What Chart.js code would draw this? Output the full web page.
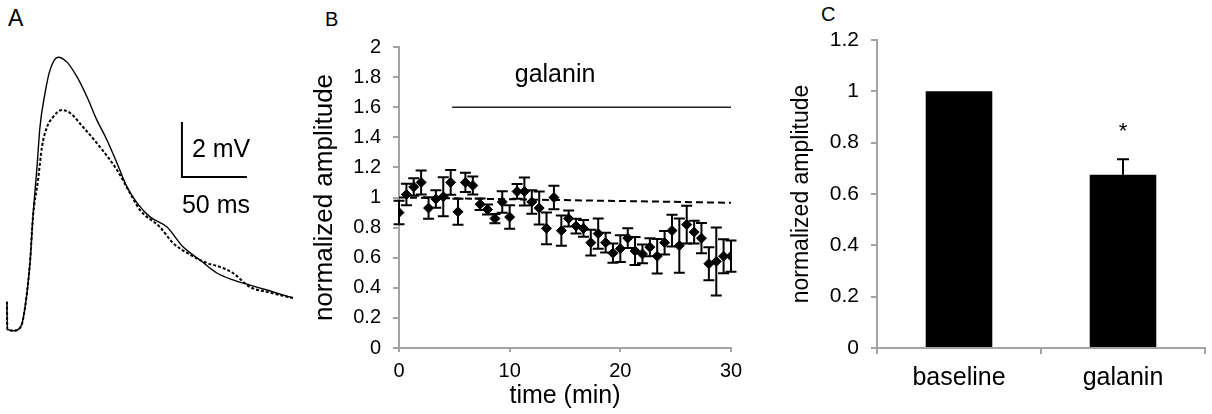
<!DOCTYPE html>
<html>
<head>
<meta charset="utf-8">
<script src="https://cdn.jsdelivr.net/npm/chart.js@4.4.0/dist/chart.umd.min.js"></script>
<style>
body { margin: 0; background: #fff; width: 1212px; height: 414px; position: relative; overflow: hidden; font-family: 'Liberation Sans', Arial, sans-serif; }
.panel { position: absolute; }
.lbl { position: absolute; font-size: 20px; line-height: 20px; color: #000; }
</style>
</head>
<body>
<div class="lbl" style="left:8px;top:7px;font-size:23px;line-height:23px">A</div>
<div class="lbl" style="left:325px;top:9px">B</div>
<div class="lbl" style="left:821px;top:4px">C</div>
<div class="panel" style="left:0;top:0;width:310px;height:414px"><canvas id="chartA"></canvas></div>
<div class="panel" style="left:300px;top:0;width:460px;height:414px"><canvas id="chartB"></canvas></div>
<div class="panel" style="left:780px;top:0;width:432px;height:414px"><canvas id="chartC"></canvas></div>
<script>
// panel A - example traces (ms, mV)
const solidTime = [-0.8, -0.5, 4.6, 9.2, 11.5, 16.9, 19.2, 22.3, 24.6, 28.5, 32.3, 38.5, 45.4, 53.1, 60.8, 68.4, 76.1, 83.8, 91.5, 99.2, 109.2, 122.3, 134.6, 147.7, 160.7, 173, 186.1, 199.2, 219.2]
const solidMv = [0.95, -0.05, -0.1, 0, 0.29, 2.36, 4.04, 5.85, 7.31, 8.55, 9.38, 9.85, 9.67, 9.13, 8.4, 7.56, 6.84, 6.0, 5.13, 4.55, 4.04, 3.67, 2.95, 2.47, 2.0, 1.75, 1.56, 1.38, 1.09]
const dashedTime = [-0.8, -0.5, 4.6, 9.2, 11.5, 16.9, 19.2, 23.1, 26.1, 30.0, 34.6, 41.5, 47.7, 57.7, 70.8, 83.8, 93.8, 101.5, 116.9, 126.9, 137.7, 153, 163, 173, 186.1, 199.2, 219.2]
const dashedMv = [0.95, -0.05, -0.1, 0, 0.29, 2.36, 4.04, 5.38, 6.58, 7.31, 7.67, 7.93, 7.82, 7.31, 6.58, 5.75, 4.91, 4.29, 3.67, 3.09, 2.73, 2.36, 2.22, 2.0, 1.49, 1.31, 1.09]
const scaleBarTime = [133.8, 133.8, 183.8]
const scaleBarMv = [7.49, 5.49, 5.49]

// panel B - time course
const timeMin = [0, 0.67, 1.33, 2, 2.67, 3.33, 4, 4.67, 5.33, 6, 6.67, 7.33, 8, 8.67, 9.33, 10, 10.67, 11.33, 12, 12.67, 13.33, 14, 14.67, 15.33, 16, 16.67, 17.33, 18, 18.67, 19.33, 20, 20.67, 21.33, 22, 22.67, 23.33, 24, 24.67, 25.33, 26, 26.67, 27.33, 28, 28.67, 29.33, 30]
const amplitude = [0.90, 1.02, 1.07, 1.10, 0.93, 0.99, 1.005, 1.10, 0.905, 1.10, 1.08, 0.955, 0.92, 0.86, 0.97, 0.87, 1.04, 1.04, 0.97, 0.93, 0.795, 1.00, 0.78, 0.86, 0.81, 0.795, 0.70, 0.76, 0.70, 0.63, 0.66, 0.73, 0.645, 0.625, 0.67, 0.61, 0.70, 0.78, 0.68, 0.82, 0.77, 0.73, 0.56, 0.575, 0.61, 0.61]
const amplitudeErr = [0.078, 0.071, 0.058, 0.08, 0.071, 0.058, 0.13, 0.082, 0.086, 0.064, 0.06, 0.038, 0.033, 0.031, 0.071, 0.078, 0.049, 0.093, 0.078, 0.11, 0.106, 0.078, 0.1, 0.053, 0.049, 0.055, 0.086, 0.1, 0.066, 0.064, 0.089, 0.066, 0.093, 0.062, 0.06, 0.115, 0.078, 0.106, 0.18, 0.126, 0.075, 0.1, 0.11, 0.226, 0.113, 0.104]
const trendTime = [0, 30]
const trendValue = [1.0, 0.965]
const galaninTime = [4.8, 30]
const galaninLevel = 1.6
const galaninLabelPos = [14.1, 1.81]
const xTicksB = [0, 10, 20, 30]
const yTicksB = [0, 0.2, 0.4, 0.6, 0.8, 1, 1.2, 1.4, 1.6, 1.8, 2]
const yTickLabelsB = ['0', '0.2', '0.4', '0.6', '0.8', '1', '1.2', '1.4', '1.6', '1.8', '2']

// panel C - summary
const groups = ['baseline', 'galanin']
const groupMean = [1.0, 0.675]
const groupErr = [0, 0.06]
const yTicksC = [0, 0.2, 0.4, 0.6, 0.8, 1, 1.2]
const yTickLabelsC = ['0', '0.2', '0.4', '0.6', '0.8', '1', '1.2']

const fontFamily = "'Liberation Sans', Arial, sans-serif"
const axisGray = '#a3a3a3'
Chart.defaults.font.family = fontFamily
Chart.defaults.color = '#000'

const baseOptions = {
    responsive: true,
    maintainAspectRatio: false,
    animation: false,
    events: [],
    plugins: { legend: { display: false }, tooltip: { enabled: false } }
}

function xy(xs, ys) {
    return xs.map((x, i) => ({ x: x, y: ys[i] }))
}

// ---------- A ----------
const scaleBarText = {
    id: 'scaleBarText',
    afterDraw(chart) {
        const ctx = chart.ctx
        const x = chart.scales.x, y = chart.scales.y
        const bx = x.getPixelForValue(scaleBarTime[0])
        const yTop = y.getPixelForValue(scaleBarMv[0])
        const yBot = y.getPixelForValue(scaleBarMv[1])
        ctx.save()
        ctx.fillStyle = '#000'
        ctx.font = '25px ' + fontFamily
        ctx.textAlign = 'left'
        ctx.textBaseline = 'alphabetic'
        ctx.fillText('2 mV', bx + 10, (yTop + yBot) / 2 + 7)
        ctx.fillText('50 ms', bx, yBot + 36)
        ctx.restore()
    }
}

new Chart(document.getElementById('chartA'), {
    type: 'line',
    data: {
        datasets: [
            { data: xy(solidTime, solidMv), borderColor: '#000', borderWidth: 1.4, pointRadius: 0, cubicInterpolationMode: 'monotone' },
            { data: xy(dashedTime, dashedMv), borderColor: '#000', borderWidth: 2, borderDash: [3, 2], pointRadius: 0, cubicInterpolationMode: 'monotone' },
            { data: xy(scaleBarTime, scaleBarMv), borderColor: '#000', borderWidth: 2, pointRadius: 0, tension: 0 }
        ]
    },
    options: {
        ...baseOptions,
        layout: { padding: 0 },
        scales: {
            x: { type: 'linear', display: false, min: -6.15, max: 232.3 },
            y: { display: false, min: -3.13, max: 11.93 }
        }
    },
    plugins: [scaleBarText]
})

// ---------- B ----------
const errorBarsB = {
    id: 'errorBarsB',
    beforeDatasetsDraw(chart) {
        const ctx = chart.ctx, y = chart.scales.y
        const meta = chart.getDatasetMeta(0)
        ctx.save()
        ctx.strokeStyle = '#000'
        ctx.lineWidth = 2
        meta.data.forEach((pt, i) => {
            const top = y.getPixelForValue(amplitude[i] + amplitudeErr[i])
            const bot = y.getPixelForValue(amplitude[i] - amplitudeErr[i])
            ctx.beginPath()
            ctx.moveTo(pt.x, top); ctx.lineTo(pt.x, bot)
            ctx.moveTo(pt.x - 5.5, top); ctx.lineTo(pt.x + 5.5, top)
            ctx.moveTo(pt.x - 5.5, bot); ctx.lineTo(pt.x + 5.5, bot)
            ctx.stroke()
        })
        ctx.restore()
    },
    afterDraw(chart) {
        const ctx = chart.ctx
        ctx.save()
        ctx.fillStyle = '#000'
        ctx.font = '25px ' + fontFamily
        ctx.textAlign = 'center'
        ctx.textBaseline = 'middle'
        ctx.fillText('galanin', chart.scales.x.getPixelForValue(galaninLabelPos[0]), chart.scales.y.getPixelForValue(galaninLabelPos[1]))
        ctx.restore()
    }
}

new Chart(document.getElementById('chartB'), {
    type: 'scatter',
    data: {
        datasets: [
            { data: xy(timeMin, amplitude), pointStyle: 'rectRot', pointRadius: 5, borderWidth: 1, backgroundColor: '#000', borderColor: '#000' },
            { data: xy(trendTime, trendValue), showLine: true, borderColor: '#000', borderWidth: 2, borderDash: [7, 4], pointRadius: 0 },
            { data: xy(galaninTime, galaninTime.map(() => galaninLevel)), showLine: true, borderColor: '#222', borderWidth: 1.5, pointRadius: 0 }
        ]
    },
    options: {
        ...baseOptions,
        layout: { padding: { top: 47, right: 29, left: 0, bottom: 0 } },
        scales: {
            x: {
                type: 'linear', min: 0, max: 30,
                afterBuildTicks: s => { s.ticks = xTicksB.map(v => ({ value: v })) },
                afterFit: s => { s.height = 66 },
                grid: { drawOnChartArea: false, tickLength: 4, color: axisGray, lineWidth: 2 },
                border: { color: axisGray, width: 2 },
                ticks: { font: { size: 20 }, padding: 7, maxRotation: 0, color: '#000' },
                title: { display: true, text: 'time (min)', font: { size: 25 }, padding: 3, color: '#000' }
            },
            y: {
                min: 0, max: 2,
                afterBuildTicks: s => { s.ticks = yTicksB.map(v => ({ value: v })) },
                afterFit: s => { s.width = 99 },
                grid: { drawOnChartArea: false, tickLength: 6, color: axisGray, lineWidth: 2 },
                border: { color: axisGray, width: 2 },
                ticks: { font: { size: 20 }, padding: 12, color: '#000', callback: (v, i) => yTickLabelsB[i] },
                title: { display: true, text: 'normalized amplitude', font: { size: 26 }, padding: 9, color: '#000' }
            }
        }
    },
    plugins: [errorBarsB]
})

// ---------- C ----------
const errorBarsC = {
    id: 'errorBarsC',
    afterDatasetsDraw(chart) {
        const ctx = chart.ctx, y = chart.scales.y
        const meta = chart.getDatasetMeta(0)
        ctx.save()
        ctx.strokeStyle = '#000'
        ctx.fillStyle = '#000'
        ctx.lineWidth = 2
        meta.data.forEach((bar, i) => {
            if (!groupErr[i]) return
            const top = y.getPixelForValue(groupMean[i] + groupErr[i])
            const base = y.getPixelForValue(groupMean[i])
            ctx.beginPath()
            ctx.moveTo(bar.x, base); ctx.lineTo(bar.x, top)
            ctx.moveTo(bar.x - 6, top); ctx.lineTo(bar.x + 6, top)
            ctx.stroke()
            // significance mark
            ctx.font = '22px ' + fontFamily
            ctx.textAlign = 'center'
            ctx.textBaseline = 'alphabetic'
            ctx.fillText('*', bar.x, top - 21)
        })
        ctx.restore()
    }
}

new Chart(document.getElementById('chartC'), {
    type: 'bar',
    data: {
        labels: groups,
        datasets: [{ data: groupMean, backgroundColor: '#000', borderWidth: 0, categoryPercentage: 1, barPercentage: 0.406 }]
    },
    options: {
        ...baseOptions,
        layout: { padding: { top: 40, right: 7, left: 0, bottom: 0 } },
        scales: {
            x: {
                afterFit: s => { s.height = 66 },
                grid: { drawOnChartArea: false, tickLength: 6, color: axisGray, lineWidth: 2 },
                border: { color: axisGray, width: 2 },
                ticks: { font: { size: 25 }, padding: 9, color: '#000' }
            },
            y: {
                min: 0, max: 1.2,
                afterBuildTicks: s => { s.ticks = yTicksC.map(v => ({ value: v })) },
                afterFit: s => { s.width = 97 },
                grid: { drawOnChartArea: false, tickLength: 6, color: axisGray, lineWidth: 2 },
                border: { color: axisGray, width: 2 },
                ticks: { font: { size: 21 }, padding: 12, color: '#000', callback: (v, i) => yTickLabelsC[i] },
                title: { display: true, text: 'normalized amplitude', font: { size: 23 }, padding: 8, color: '#000' }
            }
        }
    },
    plugins: [errorBarsC]
})
</script>
</body>
</html>
